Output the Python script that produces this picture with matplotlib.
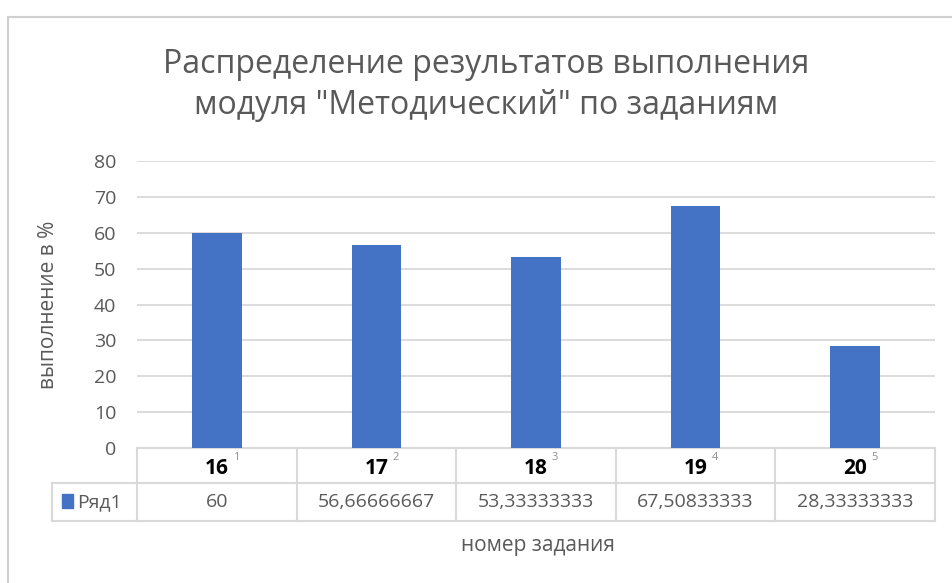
import matplotlib
matplotlib.use("Agg")
import matplotlib.pyplot as plt
from matplotlib import font_manager
from matplotlib.lines import Line2D
from matplotlib.patches import Rectangle
import matplotlib.transforms as mtransforms

# data
tasks = ["16", "17", "18", "19", "20"]
row_index = ["1", "2", "3", "4", "5"]
values = [60, 56.66666667, 53.33333333, 67.50833333, 28.33333333]
value_labels = ["60", "56,66666667", "53,33333333", "67,50833333", "28,33333333"]
series_name = "Ряд1"
yticks = [0, 10, 20, 30, 40, 50, 60, 70, 80]

names = {f.name for f in font_manager.fontManager.ttflist}
fam = "Liberation Sans Narrow" if "Liberation Sans Narrow" in names else "Open Sans"
plt.rcParams["font.family"] = [fam, "DejaVu Sans"]

bar_col = "#4472C4"
grey = "#595959"
line_col = "#D9D9D9"

W, H = 952, 583
fig = plt.figure(figsize=(W / 100, H / 100), dpi=100)

# outer chart border
fig.add_artist(Rectangle((8 / W, -0.1), 1.2, (583 - 17) / H + 0.1,
                         transform=fig.transFigure, fill=False,
                         edgecolor="#D0D0D0", linewidth=1.5))

left, right, top, bottom = 137, 935, 161, 448
ax = fig.add_axes([left / W, 1 - bottom / H, (right - left) / W, (bottom - top) / H])
x = list(range(len(tasks)))
ax.bar(x, values, width=0.31, color=bar_col, zorder=3)
ax.set_xlim(-0.5, len(tasks) - 0.5)
ax.set_ylim(0, 80)
ax.set_yticks(yticks)
ax.set_yticklabels([str(t) for t in yticks], fontsize=14, color=grey)
ax.tick_params(axis="y", length=0, pad=15)
ax.set_xticks([])
ax.grid(axis="y", color=line_col, linewidth=1.3, zorder=0)
for s in ax.spines.values():
    s.set_visible(False)

ax.set_ylabel("выполнение в %", fontsize=15, color=grey)
ax.yaxis.set_label_coords((59 - left) / (right - left), 0.5)

# data table below the axes
ph = bottom - top
r1 = -35 / ph
r2 = -73 / ph
colw = (right - left) / len(tasks)
leg_left = -0.5 - (left - 52) / colw
tr = mtransforms.blended_transform_factory(ax.transData, ax.transAxes)

def hline(x0, x1, y):
    ax.add_line(Line2D([x0, x1], [y, y], transform=tr, color=line_col,
                       linewidth=1.5, clip_on=False))

def vline(xx, y0, y1):
    ax.add_line(Line2D([xx, xx], [y0, y1], transform=tr, color=line_col,
                       linewidth=1.5, clip_on=False))

hline(-0.5, len(tasks) - 0.5, 0)
hline(leg_left, len(tasks) - 0.5, r1)
hline(leg_left, len(tasks) - 0.5, r2)
vline(leg_left, r1, r2)
for i in range(len(tasks) + 1):
    vline(i - 0.5, 0, r2)

for i, (t, idx, lab) in enumerate(zip(tasks, row_index, value_labels)):
    ax.text(i + 0.12, -9 / ph, idx, transform=tr, ha="center", va="center",
            fontsize=8, color="#909090")
    ax.text(i, -20 / ph, t, transform=tr, ha="center", va="center",
            fontsize=15, color="black", fontweight="bold")
    ax.text(i, (r1 + r2) / 2, lab, transform=tr, ha="center", va="center",
            fontsize=14, color=grey)

ax.add_patch(Rectangle((leg_left + 0.06, (r1 + r2) / 2 - 0.022), 0.07, 0.05,
                       transform=tr, color=bar_col, clip_on=False))
ax.text(leg_left + 0.16, (r1 + r2) / 2, series_name, transform=tr,
        ha="left", va="center", fontsize=14, color=grey)

fig.text(538 / W, 1 - 545 / H, "номер задания", ha="center", va="center",
         fontsize=15, color=grey)

fig.text(486 / W, 1 - 85 / H, "Распределение результатов выполнения\nмодуля \"Методический\" по заданиям",
         ha="center", va="center", fontsize=23, color=grey, linespacing=1.3)

fig.savefig("out.png", dpi=100)
